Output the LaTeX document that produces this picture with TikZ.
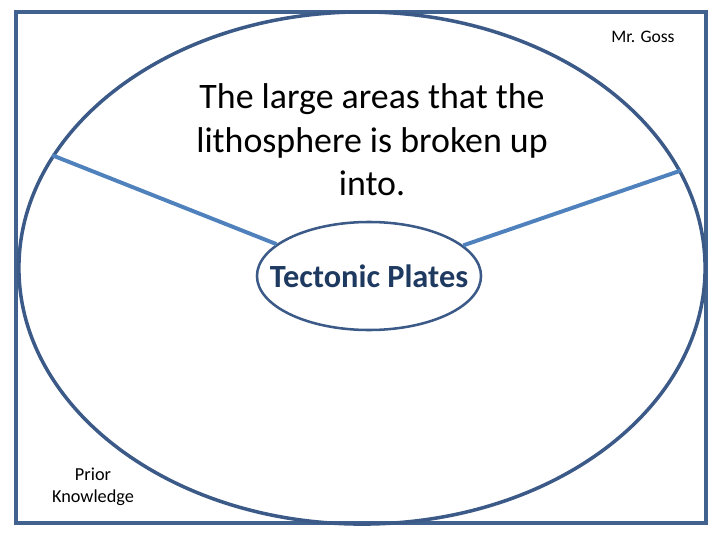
\documentclass[tikz,border=0pt]{standalone}
\usepackage{fontspec}
\setmainfont{Carlito}
\usepackage{tikz}
\usetikzlibrary{shapes.geometric}
\definecolor{framecol}{HTML}{41618E}
\definecolor{ringcol}{HTML}{3C5A88}
\definecolor{spokecol}{HTML}{4F81BD}
\definecolor{titlecol}{HTML}{1F3A60}

\begin{document}
\begin{tikzpicture}[x=0.025cm, y=0.025cm,
        spoke/.style={draw=spokecol, line width=2.8pt},
        ring/.style={shape=ellipse, draw=ringcol, inner xsep=-2cm, inner ysep=0pt}]

                    \useasboundingbox (0,0) rectangle (720,540);
                    \draw[framecol, line width=3.5pt] (16,17) rectangle (706,528);

                    \node[ring, line width=2.5pt, minimum width=17.15cm, minimum height=12.8cm] (O) at (362,272) {};
                    \node[ring, line width=1.8pt, minimum width=5.6cm, minimum height=2.7cm, text=titlecol, font=\fontsize{23}{27}\selectfont\bfseries] (P) at (369,264) {Tectonic Plates};

                    \node[align=center, font=\fontsize{25.5}{31}\selectfont] (D) at (372,400) {The large areas that the\\lithosphere is broken up\\into.};
                    \node[font=\fontsize{12.5}{15}\selectfont] (G) at (643,503) {Mr. Goss};
                    \node[align=center, font=\fontsize{13}{15.6}\selectfont] (K) at (93,53) {Prior\\Knowledge};

                    \draw[spoke] (O.160) -- (P.161.7);
                    \draw[spoke] (O.17.6) -- (P.18.3);

                \end{tikzpicture}
\end{document}
